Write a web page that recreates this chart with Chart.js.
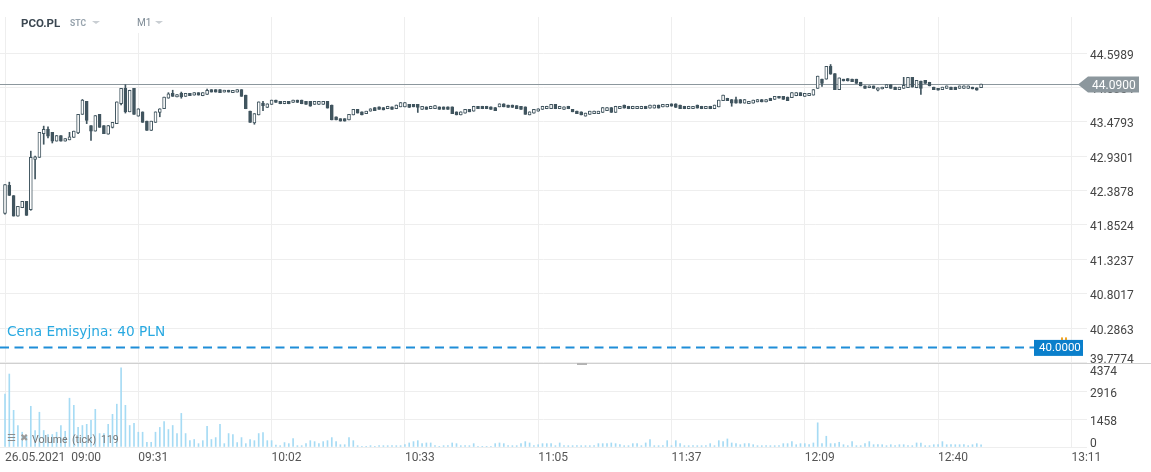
<!DOCTYPE html>
<html>
<head>
<meta charset="utf-8">
<title>PCO.PL M1</title>
<script src="https://cdn.jsdelivr.net/npm/chart.js@4.4.0/dist/chart.umd.min.js"></script>
<style>
  html, body { margin: 0; padding: 0; background: #fff; }
  body { width: 1151px; height: 472px; position: relative; overflow: hidden; font-family: Roboto, sans-serif; }
  #priceChart { position: absolute; left: 0; top: 0; }
  #volumeChart { position: absolute; left: 0; top: 363px; }
  .abs { position: absolute; white-space: nowrap; }
  .tri { position: absolute; width: 0; height: 0; border-left: 4px solid transparent; border-right: 4px solid transparent; border-top: 3px solid #c9ced3; }
</style>
</head>
<body>
<canvas id="priceChart" width="1151" height="363"></canvas>
<canvas id="volumeChart" width="1151" height="109"></canvas>

<div class="abs" style="left:128px;top:0;width:44px;height:33px;background:#fff;"></div>
<div class="abs" style="left:21px;top:16px;font:bold 11.5px Roboto;color:#3b4751;">PCO.PL</div>
<div class="abs" style="left:70px;top:18px;font:bold 8.5px Roboto;color:#97a3ad;">STC</div>
<div class="tri" style="left:92px;top:21px;"></div>
<div class="abs" style="left:137px;top:17px;font:10px Roboto;color:#7d8a95;">M1</div>
<div class="tri" style="left:155px;top:21px;"></div>

<div class="abs" style="left:0;top:363px;width:1151px;height:1px;background:#d0d0d0;"></div>
<div class="abs" style="left:577px;top:363px;width:10px;height:2px;background:#b4b4b4;"></div>

<div class="abs" style="left:7px;top:432px;font:10px 'DejaVu Sans';color:#8c8c8c;">&#9776;</div>
<div class="abs" style="left:20px;top:432px;font:10px 'DejaVu Sans';color:#9a9a9a;">&#10006;</div>
<div class="abs" style="left:32px;top:433px;font:10.5px Roboto;color:#777;">Volume</div>
<div class="abs" style="left:72px;top:433px;font:10.5px Roboto;color:#777;">(tick)</div>
<div class="abs" style="left:101px;top:433px;font:10.5px Roboto;color:#777;">119</div>

<script>
// M1 candles, 26.05.2021 from 09:00
const opens = [
  42.03, 42.47, 42.31, 41.99, 42.12, 42.22, 42.09, 42.88, 42.91, 43.29,
  43.36, 43.31, 43.17, 43.26, 43.17, 43.19, 43.23, 43.30, 43.60, 43.81,
  43.42, 43.33, 43.60, 43.42, 43.28, 43.39, 43.45, 43.77, 44.02, 43.64,
  44.02, 43.57, 43.64, 43.49, 43.34, 43.47, 43.63, 43.69, 43.86, 43.94,
  43.88, 43.94, 43.89, 43.94, 43.91, 43.95, 43.90, 43.92, 44.00, 44.00,
  44.00, 43.96, 43.99, 43.95, 43.96, 44.00, 43.91, 43.65, 43.46, 43.59,
  43.78, 43.71, 43.76, 43.83, 43.81, 43.77, 43.81, 43.79, 43.83, 43.83,
  43.81, 43.81, 43.76, 43.76, 43.76, 43.81, 43.75, 43.56, 43.53, 43.53,
  43.51, 43.59, 43.68, 43.64, 43.61, 43.65, 43.71, 43.72, 43.71, 43.69,
  43.72, 43.69, 43.72, 43.72, 43.76, 43.76, 43.76, 43.68, 43.72, 43.69,
  43.69, 43.72, 43.72, 43.72, 43.72, 43.64, 43.59, 43.62, 43.68, 43.65,
  43.73, 43.73, 43.73, 43.72, 43.71, 43.72, 43.77, 43.75, 43.75, 43.74,
  43.73, 43.72, 43.59, 43.62, 43.65, 43.68, 43.69, 43.69, 43.76, 43.69,
  43.68, 43.73, 43.68, 43.65, 43.64, 43.57, 43.60, 43.61, 43.61, 43.63,
  43.66, 43.71, 43.63, 43.69, 43.75, 43.73, 43.69, 43.69, 43.69, 43.73,
  43.70, 43.70, 43.75, 43.72, 43.72, 43.77, 43.77, 43.75, 43.73, 43.69,
  43.69, 43.75, 43.73, 43.69, 43.73, 43.69, 43.72, 43.82, 43.86, 43.84,
  43.84, 43.84, 43.78, 43.77, 43.78, 43.80, 43.84, 43.80, 43.86, 43.84,
  43.89, 43.89, 43.88, 43.87, 43.90, 43.95, 43.89, 43.90, 43.91, 44.02,
  44.17, 44.17, 44.38, 44.26, 44.00, 44.17, 44.18, 44.17, 44.17, 44.12,
  44.06, 44.03, 44.06, 43.99, 44.01, 44.03, 44.08, 44.04, 44.00, 44.02,
  44.03, 44.20, 44.03, 44.14, 44.15, 44.12, 44.04, 44.02, 44.00, 44.02,
  44.04, 44.04, 44.02, 44.02, 44.02, 44.04, 44.03, 44.03
];
const highs = [
  42.48, 42.52, 42.31, 42.14, 42.22, 42.22, 43.01, 42.93, 43.31, 43.41,
  43.40, 43.31, 43.26, 43.26, 43.21, 43.31, 43.33, 43.60, 43.84, 43.81,
  43.42, 43.58, 43.60, 43.42, 43.42, 43.47, 43.80, 44.02, 44.08, 43.99,
  44.02, 43.69, 43.64, 43.49, 43.49, 43.64, 43.69, 43.88, 43.95, 43.99,
  43.92, 43.96, 43.94, 43.94, 43.95, 43.95, 43.95, 44.01, 44.00, 44.00,
  44.00, 43.99, 43.99, 43.99, 44.00, 44.00, 43.91, 43.65, 43.61, 43.80,
  43.81, 43.77, 43.83, 43.83, 43.81, 43.81, 43.81, 43.83, 43.83, 43.83,
  43.81, 43.81, 43.81, 43.81, 43.81, 43.81, 43.75, 43.56, 43.53, 43.53,
  43.60, 43.68, 43.68, 43.64, 43.65, 43.69, 43.71, 43.72, 43.71, 43.73,
  43.72, 43.75, 43.79, 43.79, 43.76, 43.76, 43.76, 43.73, 43.72, 43.73,
  43.74, 43.72, 43.72, 43.72, 43.72, 43.64, 43.64, 43.68, 43.68, 43.73,
  43.73, 43.73, 43.73, 43.72, 43.71, 43.77, 43.77, 43.75, 43.75, 43.74,
  43.73, 43.72, 43.64, 43.68, 43.69, 43.73, 43.73, 43.76, 43.76, 43.73,
  43.72, 43.73, 43.68, 43.65, 43.64, 43.62, 43.65, 43.65, 43.65, 43.71,
  43.71, 43.71, 43.73, 43.73, 43.75, 43.73, 43.73, 43.73, 43.73, 43.73,
  43.75, 43.75, 43.75, 43.76, 43.76, 43.77, 43.77, 43.75, 43.73, 43.73,
  43.73, 43.75, 43.73, 43.73, 43.73, 43.75, 43.83, 43.91, 43.86, 43.84,
  43.88, 43.84, 43.84, 43.81, 43.83, 43.84, 43.84, 43.84, 43.86, 43.89,
  43.89, 43.89, 43.88, 43.95, 43.95, 43.95, 43.94, 43.94, 44.00, 44.22,
  44.17, 44.38, 44.41, 44.26, 44.19, 44.17, 44.18, 44.17, 44.17, 44.12,
  44.06, 44.06, 44.06, 44.03, 44.04, 44.08, 44.08, 44.04, 44.04, 44.20,
  44.20, 44.20, 44.15, 44.14, 44.15, 44.12, 44.04, 44.02, 44.04, 44.06,
  44.04, 44.04, 44.06, 44.06, 44.06, 44.04, 44.03, 44.09
];
const lows = [
  42.02, 42.31, 41.99, 41.99, 42.12, 42.00, 42.08, 42.57, 42.91, 43.12,
  43.22, 43.14, 43.17, 43.17, 43.17, 43.19, 43.23, 43.29, 43.60, 43.45,
  43.18, 43.33, 43.39, 43.29, 43.28, 43.38, 43.45, 43.75, 43.62, 43.64,
  43.60, 43.57, 43.47, 43.34, 43.34, 43.47, 43.56, 43.69, 43.86, 43.89,
  43.88, 43.86, 43.89, 43.90, 43.91, 43.91, 43.90, 43.92, 43.96, 43.96,
  43.95, 43.96, 43.96, 43.95, 43.96, 43.89, 43.69, 43.47, 43.44, 43.59,
  43.66, 43.71, 43.76, 43.79, 43.77, 43.77, 43.77, 43.79, 43.79, 43.77,
  43.76, 43.73, 43.76, 43.76, 43.76, 43.70, 43.51, 43.51, 43.49, 43.49,
  43.51, 43.59, 43.62, 43.59, 43.61, 43.65, 43.66, 43.68, 43.67, 43.69,
  43.68, 43.69, 43.72, 43.72, 43.71, 43.72, 43.63, 43.68, 43.68, 43.69,
  43.69, 43.68, 43.68, 43.68, 43.61, 43.59, 43.59, 43.62, 43.64, 43.65,
  43.69, 43.69, 43.69, 43.68, 43.66, 43.72, 43.72, 43.71, 43.71, 43.69,
  43.68, 43.60, 43.59, 43.62, 43.65, 43.68, 43.69, 43.69, 43.69, 43.69,
  43.68, 43.69, 43.64, 43.61, 43.59, 43.57, 43.60, 43.61, 43.61, 43.63,
  43.66, 43.63, 43.63, 43.69, 43.70, 43.69, 43.69, 43.69, 43.69, 43.69,
  43.70, 43.70, 43.70, 43.72, 43.72, 43.73, 43.71, 43.69, 43.69, 43.69,
  43.69, 43.70, 43.69, 43.69, 43.69, 43.69, 43.72, 43.82, 43.82, 43.73,
  43.78, 43.78, 43.78, 43.77, 43.78, 43.80, 43.80, 43.80, 43.82, 43.84,
  43.86, 43.84, 43.82, 43.87, 43.90, 43.90, 43.89, 43.90, 43.91, 44.02,
  44.05, 44.17, 44.25, 44.00, 44.00, 44.14, 44.14, 44.13, 44.10, 44.06,
  44.02, 44.03, 44.02, 43.98, 44.01, 44.03, 44.02, 44.00, 44.00, 44.02,
  44.03, 44.04, 44.03, 43.92, 44.10, 44.06, 44.00, 43.99, 44.00, 44.02,
  44.00, 44.00, 44.02, 44.02, 44.02, 44.01, 43.99, 44.03
];
const closes = [
  42.48, 42.31, 41.99, 42.14, 42.22, 42.00, 42.91, 42.92, 43.31, 43.36,
  43.25, 43.17, 43.26, 43.17, 43.21, 43.24, 43.33, 43.60, 43.83, 43.50,
  43.33, 43.58, 43.39, 43.29, 43.42, 43.47, 43.80, 44.02, 43.64, 43.99,
  43.60, 43.69, 43.47, 43.34, 43.49, 43.64, 43.69, 43.88, 43.93, 43.89,
  43.92, 43.88, 43.94, 43.90, 43.95, 43.91, 43.95, 43.99, 43.96, 43.96,
  43.95, 43.99, 43.96, 43.99, 44.00, 43.89, 43.69, 43.47, 43.61, 43.80,
  43.74, 43.77, 43.83, 43.79, 43.77, 43.81, 43.77, 43.83, 43.79, 43.77,
  43.76, 43.73, 43.81, 43.81, 43.81, 43.70, 43.51, 43.51, 43.49, 43.49,
  43.60, 43.68, 43.62, 43.59, 43.65, 43.69, 43.66, 43.68, 43.67, 43.73,
  43.68, 43.75, 43.79, 43.79, 43.71, 43.72, 43.71, 43.73, 43.68, 43.73,
  43.74, 43.68, 43.68, 43.68, 43.61, 43.59, 43.64, 43.68, 43.64, 43.73,
  43.69, 43.69, 43.69, 43.68, 43.66, 43.77, 43.72, 43.71, 43.71, 43.69,
  43.68, 43.60, 43.64, 43.68, 43.69, 43.73, 43.73, 43.76, 43.69, 43.73,
  43.72, 43.69, 43.64, 43.61, 43.59, 43.62, 43.65, 43.65, 43.65, 43.71,
  43.71, 43.63, 43.73, 43.73, 43.70, 43.69, 43.73, 43.73, 43.73, 43.69,
  43.75, 43.75, 43.70, 43.76, 43.76, 43.73, 43.71, 43.69, 43.69, 43.73,
  43.73, 43.70, 43.69, 43.73, 43.69, 43.75, 43.83, 43.91, 43.82, 43.78,
  43.78, 43.78, 43.84, 43.81, 43.83, 43.84, 43.80, 43.84, 43.82, 43.89,
  43.86, 43.84, 43.82, 43.95, 43.95, 43.90, 43.94, 43.94, 44.00, 44.22,
  44.10, 44.38, 44.25, 44.00, 44.19, 44.14, 44.14, 44.13, 44.10, 44.06,
  44.02, 44.06, 44.02, 44.03, 44.04, 44.08, 44.02, 44.00, 44.04, 44.07,
  44.20, 44.04, 44.15, 44.02, 44.10, 44.06, 44.00, 43.99, 44.04, 44.06,
  44.00, 44.00, 44.06, 44.06, 44.06, 44.01, 43.99, 44.09
];
const volumes = [
  2750, 3800, 1910, 1120, 770, 560, 2120, 860, 1810, 860,
  650, 650, 770, 1120, 820, 2540, 2170, 1030, 1120, 1180,
  1390, 1960, 700, 700, 1180, 1700, 2230, 4120, 2170, 1120,
  1230, 770, 770, 245, 245, 770, 1020, 1330, 910, 1120,
  700, 1750, 700, 330, 390, 175, 330, 1070, 390, 490,
  1180, 175, 700, 650, 230, 490, 175, 390, 330, 700,
  750, 330, 330, 105, 70, 230, 175, 440, 70, 70,
  175, 330, 280, 175, 280, 330, 490, 280, 120, 120,
  490, 330, 70, 35, 35, 70, 10, 70, 70, 70,
  70, 70, 70, 120, 210, 280, 330, 175, 210, 210,
  70, 35, 70, 70, 210, 175, 70, 70, 70, 175,
  35, 35, 35, 10, 175, 210, 175, 70, 70, 70,
  175, 280, 210, 70, 120, 175, 175, 175, 70, 210,
  70, 70, 70, 70, 70, 70, 70, 70, 175, 175,
  175, 210, 175, 120, 70, 70, 175, 175, 70, 210,
  390, 70, 70, 70, 330, 70, 330, 175, 70, 70,
  70, 70, 70, 70, 175, 70, 330, 280, 420, 210,
  175, 120, 175, 175, 120, 70, 70, 70, 70, 70,
  70, 175, 175, 280, 120, 175, 175, 120, 210, 1260,
  175, 560, 175, 175, 245, 120, 70, 280, 70, 70,
  175, 280, 120, 120, 120, 70, 120, 70, 120, 120,
  70, 70, 210, 210, 70, 70, 120, 120, 280, 120,
  120, 120, 120, 120, 70, 120, 175, 119
];

// axes
const timeTicks = [0, 31, 62, 93, 124, 155, 186, 217, 248];
const timeLabels = ['26.05.2021  09:00', '09:31', '10:02', '10:33', '11:05', '11:37', '12:09', '12:40', '13:11'];
const priceTicks = [44.5989, 44.0354, 43.4793, 42.9301, 42.3878, 41.8524, 41.3237, 40.8017, 40.2863, 39.7774];
const volumeTicks = [0, 1458, 2916, 4374];
const issuePrice = 40;
const issueLabel = 'Cena Emisyjna: 40 PLN';

const DARK = '#41555f';
const GRID = '#eeeeee';
const X_MIN = -1.163, X_MAX = 251.63;

Chart.defaults.font.family = 'Roboto';
Chart.defaults.animation = false;

const xAxis = (showLabels) => ({
  type: 'linear',
  min: X_MIN,
  max: X_MAX,
  offset: false,
  grid: { color: GRID, offset: false, drawTicks: false },
  border: { display: false },
  afterBuildTicks: s => { s.ticks = timeTicks.map(v => ({ value: v })); },
  afterFit: s => { s.height = showLabels ? 25 : 0; },
  ticks: {
    display: showLabels,
    autoSkip: false,
    maxRotation: 0,
    minRotation: 0,
    align: 'start',
    padding: 4,
    color: '#555',
    font: { size: 12 },
    callback: (v, i) => timeLabels[i]
  }
});

// right-hand labels, kept inside their pane like the original
const axisLabels = {
  id: 'axisLabels',
  afterDraw(chart, args, opts) {
    const { ctx, chartArea: a } = chart;
    const sc = chart.scales.y;
    ctx.save();
    ctx.font = '12px Roboto';
    ctx.fillStyle = '#444';
    ctx.textAlign = 'left';
    ctx.textBaseline = 'middle';
    sc.ticks.forEach(t => {
      let y = sc.getPixelForValue(t.value) + 2.5;
      y = Math.min(Math.max(y, a.top + 9), a.bottom - 3);
      ctx.fillText(t.value.toFixed(opts.decimals), a.right + 3, y);
    });
    ctx.restore();
  }
};

const priceMarks = {
  id: 'priceMarks',
  beforeDatasetsDraw(chart) {
    const { ctx } = chart;
    const y = Math.round(chart.scales.y.getPixelForValue(closes[closes.length - 1])) + 0.5;
    ctx.save();
    ctx.strokeStyle = '#8c979d';
    ctx.lineWidth = 1;
    ctx.beginPath();
    ctx.moveTo(0, y);
    ctx.lineTo(1080, y);
    ctx.stroke();
    ctx.restore();
  },
  afterDraw(chart) {
    const { ctx } = chart;
    const sc = chart.scales.y;
    ctx.save();

    // issue price line
    const yi = sc.getPixelForValue(issuePrice);
    ctx.strokeStyle = '#1f8ed8';
    ctx.lineWidth = 2;
    ctx.setLineDash([9, 5.5]);
    ctx.beginPath();
    ctx.moveTo(0, yi);
    ctx.lineTo(1034, yi);
    ctx.stroke();
    ctx.setLineDash([]);

    ctx.font = '13.7px "DejaVu Sans"';
    ctx.fillStyle = '#29a9e1';
    ctx.textBaseline = 'alphabetic';
    ctx.textAlign = 'left';
    ctx.fillText(issueLabel, 7, yi - 11);

    ctx.fillStyle = '#f5a623';
    ctx.fillRect(1061, yi - 10, 2, 4);
    ctx.fillRect(1065, yi - 10, 2, 4);

    ctx.fillStyle = '#0a7fcb';
    ctx.fillRect(1034, yi - 7.5, 49, 16);
    ctx.fillStyle = '#fff';
    ctx.font = '11.5px Roboto';
    ctx.textBaseline = 'middle';
    ctx.fillText(issuePrice.toFixed(4), 1039, yi + 1);

    // last price tag
    const last = closes[closes.length - 1];
    const yl = sc.getPixelForValue(last) + 0.5;
    ctx.fillStyle = '#8c979d';
    ctx.beginPath();
    ctx.moveTo(1078, yl);
    ctx.lineTo(1088, yl - 8);
    ctx.lineTo(1139, yl - 8);
    ctx.lineTo(1139, yl + 8);
    ctx.lineTo(1088, yl + 8);
    ctx.closePath();
    ctx.fill();
    ctx.fillStyle = '#fff';
    ctx.font = '12px Roboto';
    ctx.fillText(last.toFixed(4), 1092, yl + 1);

    ctx.restore();
  }
};

const isUp = i => closes[i] >= opens[i];

new Chart(document.getElementById('priceChart'), {
  type: 'bar',
  data: {
    datasets: [
      {
        label: 'body',
        order: 0,
        grouped: false,
        data: opens.map((o, i) => ({ x: i, y: [o, closes[i]] })),
        barThickness: 3,
        minBarLength: 2,
        borderWidth: 1,
        borderSkipped: false,
        borderColor: DARK,
        backgroundColor: c => isUp(c.dataIndex) ? '#ffffff' : DARK
      },
      {
        label: 'wick',
        order: 1,
        grouped: false,
        data: lows.map((l, i) => ({ x: i, y: [l, highs[i]] })),
        barThickness: 1,
        borderWidth: 0,
        backgroundColor: DARK
      }
    ]
  },
  options: {
    responsive: false,
    devicePixelRatio: 1,
    events: [],
    layout: { padding: { top: 17, left: 0, right: 0, bottom: 0 } },
    plugins: { legend: { display: false }, tooltip: { enabled: false }, axisLabels: { decimals: 4 } },
    scales: {
      x: xAxis(false),
      y: {
        type: 'logarithmic',
        position: 'right',
        min: 39.77,
        max: 45.197,
        grid: { color: GRID, drawTicks: false },
        border: { display: false },
        ticks: { display: false },
        afterBuildTicks: s => { s.ticks = priceTicks.map(v => ({ value: v })); },
        afterFit: s => { s.width = 64; }
      }
    }
  },
  plugins: [axisLabels, priceMarks]
});

new Chart(document.getElementById('volumeChart'), {
  type: 'bar',
  data: {
    datasets: [{
      label: 'Volume (tick)',
      grouped: false,
      data: volumes.map((v, i) => ({ x: i, y: v })),
      barThickness: 1,
      borderWidth: 0,
      backgroundColor: '#a6dbf4'
    }]
  },
  options: {
    responsive: false,
    devicePixelRatio: 1,
    events: [],
    layout: { padding: 0 },
    plugins: { legend: { display: false }, tooltip: { enabled: false }, axisLabels: { decimals: 0 } },
    scales: {
      x: xAxis(true),
      y: {
        position: 'right',
        min: 0,
        max: 4374,
        grid: { color: GRID, drawTicks: false },
        border: { display: false },
        ticks: { display: false },
        afterBuildTicks: s => { s.ticks = volumeTicks.map(v => ({ value: v })); },
        afterFit: s => { s.width = 64; }
      }
    }
  },
  plugins: [axisLabels]
});
</script>
</body>
</html>
